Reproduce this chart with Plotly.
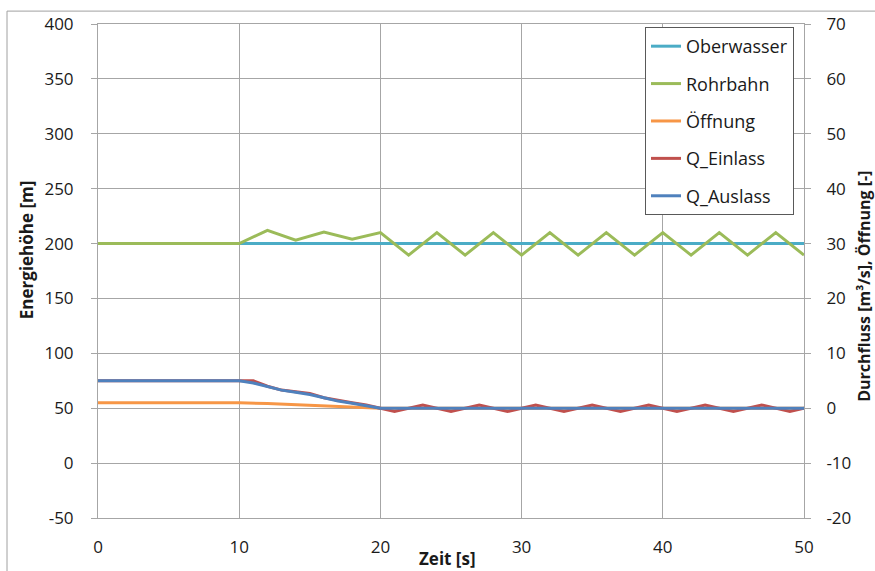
import plotly.graph_objects as go

# Zeitachse und Messreihen
t_ober = [0, 50]
ober = [200, 200]

t_rohr = [0, 10, 12, 14, 16, 18, 20, 22, 24, 26, 28, 30, 32, 34, 36, 38, 40, 42, 44, 46, 48, 50]
rohr = [200, 200, 212, 203, 210.5, 204, 210, 189.5, 210, 189.5, 210, 189.5, 210, 189.5, 210,
        189.5, 210, 189.5, 210, 189.5, 210, 189.5]

t_oeff = [0, 10, 12, 14, 16, 18, 20, 50]
oeff = [1.0, 1.0, 0.85, 0.65, 0.45, 0.25, 0.0, 0.0]

t_ein = [0, 10, 11, 12, 13, 14, 15, 16, 17, 18, 19, 20, 21, 23, 25, 27, 29, 31, 33, 35, 37, 39,
         41, 43, 45, 47, 49, 50]
q_ein = [5.0, 5.0, 5.0, 4.0, 3.3, 3.0, 2.7, 1.9, 1.4, 1.0, 0.6, 0.0, -0.6, 0.6, -0.6, 0.6, -0.6,
         0.6, -0.6, 0.6, -0.6, 0.6, -0.6, 0.6, -0.6, 0.6, -0.6, 0.0]

t_aus = [0, 10, 11, 12, 13, 14, 15, 16, 17, 18, 19, 20, 50]
q_aus = [5.0, 5.0, 4.6, 3.9, 3.3, 2.9, 2.5, 1.9, 1.3, 0.9, 0.5, 0.0, 0.0]

x_ticks = [0, 10, 20, 30, 40, 50]
y_left_ticks = list(range(-50, 401, 50))
y_right_ticks = list(range(-20, 71, 10))

FONT = "Open Sans"
TXT = "#1a1a1a"
GRID = "#a6a6a6"

fig = go.Figure()
series = [
    ("Oberwasser", t_ober, ober, "#4bacc6", "y"),
    ("Rohrbahn", t_rohr, rohr, "#9bbb59", "y"),
    ("Öffnung", t_oeff, oeff, "#f79646", "y2"),
    ("Q_Einlass", t_ein, q_ein, "#c0504d", "y2"),
    ("Q_Auslass", t_aus, q_aus, "#4f81bd", "y2"),
]
for name, xs, ys, col, ax in series:
    fig.add_trace(go.Scatter(x=xs, y=ys, name=name, mode="lines", yaxis=ax,
                             legendgroup=name,
                             line=dict(color=col, width=3)))

W, H = 875, 571
L, R, T, B = 98, 71, 20, 53

def px(x):
    return (x - L) / (W - L - R)

def py(y):
    return (H - B - y) / (H - T - B)

def labels(vals):
    # Bindestrich statt typografischem Minus
    return [str(v) for v in vals]

fig.update_layout(
    width=W, height=H,
    margin=dict(l=L, r=R, t=T, b=B),
    paper_bgcolor="white", plot_bgcolor="white",
    font=dict(family=FONT, size=17, color=TXT),
    xaxis=dict(range=[0, 50], tickvals=x_ticks, ticktext=labels(x_ticks),
               showgrid=True, gridcolor=GRID, gridwidth=1,
               zeroline=False, showline=True, linecolor=GRID, mirror=True,
               ticks="", ticklabelstandoff=14, tickfont=dict(size=17)),
    yaxis=dict(range=[-50, 400], tickvals=y_left_ticks, ticktext=labels(y_left_ticks),
               showgrid=True, gridcolor=GRID,
               zeroline=False, showline=True, linecolor=GRID, mirror=True,
               ticks="outside", ticklen=6, tickcolor=GRID, ticklabelstandoff=14,
               tickfont=dict(size=17)),
    yaxis2=dict(range=[-20, 70], tickvals=y_right_ticks, ticktext=labels(y_right_ticks),
                overlaying="y", side="right",
                showgrid=False, zeroline=False, ticks="outside", ticklen=6, tickcolor=GRID,
                ticklabelstandoff=12, tickfont=dict(size=17)),
    legend=dict(x=px(645), y=py(23), xanchor="left", yanchor="top",
                bordercolor="#595959", borderwidth=1, bgcolor="white",
                font=dict(size=18, color=TXT), tracegroupgap=11,
                traceorder="grouped"),
    showlegend=True,
)

# Achsentitel
fig.add_annotation(text="<b>Energiehöhe [m]</b>", xref="paper", yref="paper",
                   x=px(26), y=py(248), xanchor="center", yanchor="middle",
                   textangle=-90, showarrow=False, font=dict(size=17, color=TXT))
fig.add_annotation(text="<b>Durchfluss [m³/s], Öffnung [-]</b>", xref="paper", yref="paper",
                   x=px(864), y=py(285), xanchor="center", yanchor="middle",
                   textangle=-90, showarrow=False, font=dict(size=16, color=TXT))
fig.add_annotation(text="<b>Zeit [s]</b>", xref="paper", yref="paper",
                   x=px(447), y=py(559), xanchor="center", yanchor="middle",
                   showarrow=False, font=dict(size=17, color=TXT))

# Diagrammrahmen (oben und links)
fig.add_shape(type="line", xref="paper", yref="paper", x0=px(7), x1=px(W + 5),
              y0=py(7), y1=py(7), line=dict(color="#a0a0a0", width=1))
fig.add_shape(type="line", xref="paper", yref="paper", x0=px(7), x1=px(7),
              y0=py(7), y1=py(H + 5), line=dict(color="#a0a0a0", width=1))

fig.write_html("out.html")
